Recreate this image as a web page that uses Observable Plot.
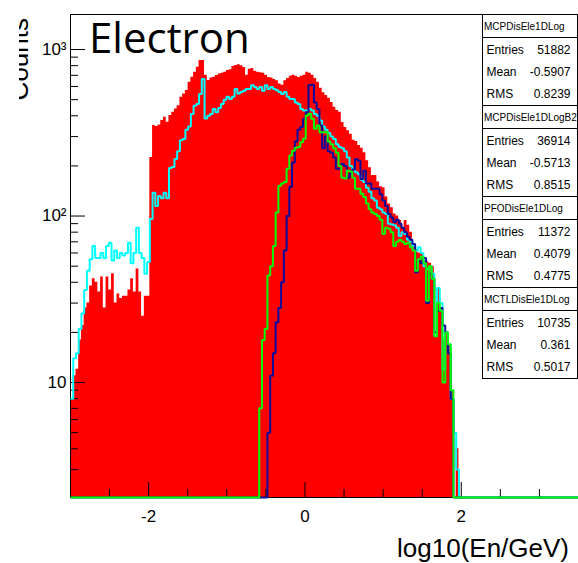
<!DOCTYPE html>
<html>
<head>
<meta charset="utf-8">
<script src="https://cdn.jsdelivr.net/npm/d3@7"></script>
<script src="https://cdn.jsdelivr.net/npm/@observablehq/plot@0.6"></script>
<style>
  body { margin: 0; background: #fff; }
  #chart { position: relative; width: 578px; height: 563px; overflow: hidden; }
</style>
</head>
<body>
<div id="chart"></div>
<script>
// Binning of log10(En/GeV): 200 bins of 0.035 starting at -3
const xMin = -3;
const binWidth = 0.035;
const nBins = 200;

// MCPDisEle1DLog (filled red), bins 0..141
const red = [
  8, 11, 12, 18, 22, 28, 30, 38, 42, 40,
  35, 43, 28, 43, 36, 45, 30, 34, 32, 33,
  33, 36, 42, 35, 48, 35, 25, 33, 33, 225,
  350, 345, 352, 375, 392, 366, 402, 420, 440, 460,
  517, 541, 567, 636, 682, 731, 783, 859, 860, 700,
  651, 675, 682, 698, 714, 720, 731, 748, 755, 790,
  801, 810, 800, 780, 700, 760, 770, 740, 730, 725,
  720, 700, 680, 675, 660, 650, 620, 610, 650, 670,
  690, 700, 690, 680, 690, 700, 730, 720, 700, 670,
  635, 585, 550, 530, 510, 480, 450, 430, 420, 365,
  340, 325, 310, 285, 280, 265, 255, 240, 215, 195,
  175, 175, 160, 150, 148, 130, 118, 112, 103, 100,
  94, 85, 94, 88, 80, 68, 63, 60, 60, 53,
  53, 52, 50, 19, 37, 27, 18, 20, 17, 9,
  0, 4
];

// MCPDisEle1DLogB2 (cyan line), bins 0..141
const cyan = [
  8, 14, 15, 21, 26, 36, 47, 55, 66, 56,
  56, 60, 56, 66, 69, 54, 62, 56, 60, 58,
  60, 69, 52, 60, 85, 60, 56, 45, 53, 96,
  138, 115, 132, 128, 138, 128, 194, 197, 220, 245,
  285, 290, 330, 345, 410, 460, 470, 540, 665, 385,
  400, 410, 440, 420, 445, 470, 500, 520, 505, 520,
  580, 545, 555, 565, 580, 580, 610, 595, 580, 595,
  565, 610, 580, 595, 580, 570, 555, 540, 555, 520,
  505, 505, 480, 470, 440, 430, 430, 440, 430, 410,
  400, 375, 345, 330, 315, 300, 290, 270, 260, 255,
  245, 225, 200, 190, 183, 178, 165, 160, 148, 140,
  128, 124, 112, 110, 105, 103, 90, 89, 88, 85,
  76, 80, 78, 72, 70, 66, 62, 65, 60, 50,
  48, 50, 45, 19, 37, 30, 12, 20, 17, 8,
  5, 3
];

// PFODisEle1DLog (navy line), first filled bin 72
const blueStart = 72;
const blue = [
  5, 11, 15, 23, 28, 40, 62, 100, 150, 210,
  280, 330, 342, 384, 420, 610, 615, 480, 440, 350,
  255, 300, 245, 240, 225, 192, 192, 205, 200, 170,
  180, 190, 220, 215, 167, 187, 157, 157, 146, 146,
  146, 135, 124, 115, 103, 98, 92, 95, 90, 85,
  80, 75, 72, 68, 46, 54, 52, 56, 30, 45,
  42, 20, 27, 28, 22, 20, 15, 8
];

// MCTLDisEle1DLog (green line), first filled bin 69
const greenStart = 69;
const green = [
  7, 18, 21, 44, 50, 66, 105, 152, 157, 160,
  192, 231, 247, 257, 260, 277, 291, 402, 411, 384,
  334, 350, 318, 318, 318, 280, 270, 255, 240, 200,
  170, 168, 187, 185, 170, 146, 146, 136, 130, 119,
  110, 105, 103, 100, 95, 78, 85, 84, 80, 66,
  70, 72, 70, 68, 69, 65, 62, 47, 55, 57,
  52, 31, 50, 42, 19, 30, 27, 10, 20, 17,
  9
];

// Axis ticks
const yMajor = [10, 100, 1000];
const yMajorLabels = ["10", "10\u00B2", "10\u00B3"];
const yMinor = [3, 4, 5, 6, 7, 8, 9, 20, 30, 40, 50, 60, 70, 80, 90, 200, 300, 400, 500, 600, 700, 800, 900];
const xMajor = [-2, 0, 2];
const xMinor = [-2.5, -1.5, -1, -0.5, 0.5, 1, 1.5, 2.5, 3];

// Statistics boxes
const statNames = ["MCPDisEle1DLog", "MCPDisEle1DLogB2", "PFODisEle1DLog", "MCTLDisEle1DLog"];
const statEntries = ["51882", "36914", "11372", "10735"];
const statMeans = ["-0.5907", "-0.5713", "0.4079", "0.361"];
const statRms = ["0.8239", "0.8515", "0.4775", "0.5017"];

const yLo = 2.04, yHi = 1623;

function toBins(values, start) {
  const out = new Array(nBins).fill(0);
  values.forEach((v, i) => { out[start + i] = v; });
  return out;
}
function stepPoints(bins) {
  const pts = bins.map((v, k) => ({x: xMin + k * binWidth, y: v}));
  pts.push({x: xMin + nBins * binWidth, y: bins[nBins - 1]});
  return pts;
}
const clampY = d => Math.max(d.y, yLo);

const redPts = stepPoints(toBins(red, 0));
const cyanPts = stepPoints(toBins(cyan, 0));
const bluePts = stepPoints(toBins(blue, blueStart));
const greenPts = stepPoints(toBins(green, greenStart));

const font = "'Liberation Sans', Arial, sans-serif";

const plot = Plot.plot({
  width: 578,
  height: 563,
  marginLeft: 70,
  marginRight: 0,
  marginTop: 14,
  marginBottom: 66,
  style: {fontFamily: font, fontSize: "17px", color: "#000", background: "#fff"},
  x: {domain: [-3, 3.5]},
  y: {type: "log", domain: [yLo, yHi]},
  marks: [
    Plot.area(redPts, {x1: "x", y1: () => yLo, y2: clampY, curve: "step-after", fill: "#ff0000"}),
    // frame lines
    Plot.ruleY([yHi], {stroke: "#000", strokeWidth: 1}),
    Plot.ruleY([yLo], {stroke: "#000", strokeWidth: 1}),
    Plot.ruleX([xMin], {stroke: "#000", strokeWidth: 1}),
    // inward ticks
    Plot.axisY(yMajor, {anchor: "left", tickSize: 15, dx: 15, tickFormat: () => "", label: null, stroke: "#000"}),
    Plot.axisY(yMinor, {anchor: "left", tickSize: 8, dx: 8, tickFormat: () => "", label: null, stroke: "#000"}),
    Plot.axisX(xMajor, {anchor: "bottom", tickSize: 15, dy: -15, tickFormat: () => "", label: null, stroke: "#000"}),
    Plot.axisX(xMinor, {anchor: "bottom", tickSize: 8, dy: -8, tickFormat: () => "", label: null, stroke: "#000"}),
    // tick labels
    Plot.axisY(yMajor, {anchor: "left", tickSize: 0, tickPadding: 4, tickFormat: d => yMajorLabels[yMajor.indexOf(d)], label: null, fontSize: 17}),
    Plot.axisX(xMajor, {anchor: "bottom", tickSize: 0, tickPadding: 12, tickFormat: d => String(d), label: null, fontSize: 17}),
    // histogram outlines
    Plot.line(cyanPts, {x: "x", y: clampY, curve: "step-after", stroke: "#00ffff", strokeWidth: 2, strokeLinejoin: "miter", strokeLinecap: "butt"}),
    Plot.line(bluePts, {x: "x", y: clampY, curve: "step-after", stroke: "#0b0b9c", strokeWidth: 2, strokeLinejoin: "miter", strokeLinecap: "butt"}),
    Plot.line(greenPts, {x: "x", y: clampY, curve: "step-after", stroke: "#00ff00", strokeWidth: 2, strokeLinejoin: "miter", strokeLinecap: "butt"})
  ]
});

document.getElementById("chart").appendChild(plot);

// Annotations: title, axis titles, statistics boxes
const svg = d3.select(plot);

svg.append("text")
  .attr("x", 89).attr("y", 53)
  .attr("text-anchor", "start")
  .attr("font-family", "'Open Sans', sans-serif")
  .attr("font-size", 42)
  .attr("fill", "#000")
  .text("Electron");

svg.append("text")
  .attr("x", 569).attr("y", 557)
  .attr("text-anchor", "end")
  .attr("font-family", font)
  .attr("font-size", 26)
  .attr("fill", "#000")
  .text("log10(En/GeV)");

// y title: only its lower strip shows, the rest is cut off at the left
svg.append("clipPath").attr("id", "ytitle-clip")
  .append("rect").attr("x", 19).attr("y", 0).attr("width", 20).attr("height", 140);
svg.append("g")
  .attr("clip-path", "url(#ytitle-clip)")
  .append("text")
  .attr("transform", "translate(28,18) rotate(-90)")
  .attr("text-anchor", "end")
  .attr("font-family", font)
  .attr("font-size", 26)
  .attr("fill", "#000")
  .text("Counts");

const boxLeft = 482.5, boxWidth = 95, boxHeight = 91, boxTop = 14.5;
statNames.forEach((name, i) => {
  const t = boxTop + i * boxHeight;
  const g = svg.append("g").attr("font-family", font).attr("fill", "#000").attr("text-anchor", "start");
  g.append("rect")
    .attr("x", boxLeft).attr("y", t)
    .attr("width", boxWidth).attr("height", boxHeight)
    .attr("fill", "#fff").attr("stroke", "#000").attr("stroke-width", 1);
  g.append("line")
    .attr("x1", boxLeft).attr("x2", boxLeft + boxWidth)
    .attr("y1", t + 23).attr("y2", t + 23)
    .attr("stroke", "#000").attr("stroke-width", 1);
  g.append("text")
    .attr("x", boxLeft + 1.5).attr("y", t + 15)
    .attr("font-size", 10)
    .text(name);
  const rows = [["Entries", statEntries[i]], ["Mean", statMeans[i]], ["RMS", statRms[i]]];
  const rowY = [39, 61, 83];
  rows.forEach(([label, value], j) => {
    g.append("text")
      .attr("x", boxLeft + 4).attr("y", t + rowY[j])
      .attr("font-size", 12)
      .text(label);
    g.append("text")
      .attr("x", boxLeft + boxWidth - 7).attr("y", t + rowY[j])
      .attr("text-anchor", "end")
      .attr("font-size", 12)
      .text(value);
  });
});
</script>
</body>
</html>
